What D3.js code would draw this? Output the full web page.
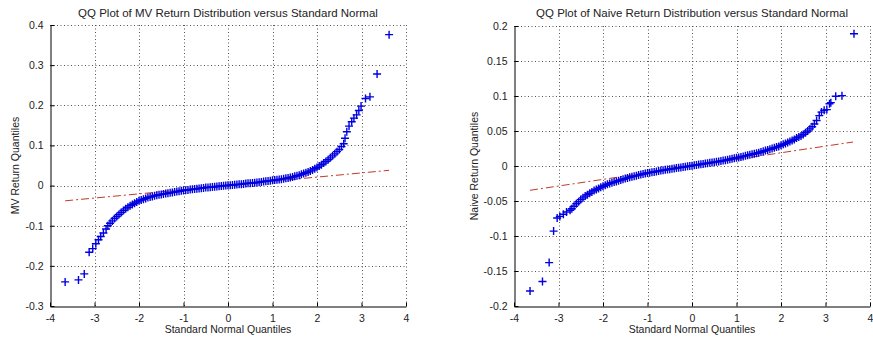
<!DOCTYPE html>
<html><head><meta charset="utf-8">
<script src="https://cdn.jsdelivr.net/npm/d3@7"></script>
<style>body{margin:0;background:#fff} svg text{font-family:"Liberation Sans",Arial,sans-serif;fill:#222}</style>
</head><body><svg id="c" width="873" height="341"></svg>
<script>
// ---- data ----
const xTicks = [-4,-3,-2,-1,0,1,2,3,4];
const xTickLabels = ["-4","-3","-2","-1","0","1","2","3","4"];
const mvYTicks = [-0.3,-0.2,-0.1,0,0.1,0.2,0.3,0.4];
const mvYTickLabels = ["-0.3","-0.2","-0.1","0","0.1","0.2","0.3","0.4"];
const naiveYTicks = [-0.2,-0.15,-0.1,-0.05,0,0.05,0.1,0.15,0.2];
const naiveYTickLabels = ["-0.2","-0.15","-0.1","-0.05","0","0.05","0.1","0.15","0.2"];

const mvTitle = "QQ Plot of MV Return Distribution versus Standard Normal";
const naiveTitle = "QQ Plot of Naive Return Distribution versus Standard Normal";
const xLabel = "Standard Normal Quantiles";
const mvYLabel = "MV Return Quantiles";
const naiveYLabel = "Naive Return Quantiles";

// MV sample quantiles (x = standard normal quantile, y = return quantile)
const mvX = [-3.66,-3.36,-3.23,-3.12,-3.04,-2.97,-2.91,-2.86,-2.80,-2.74,
 -2.70,-2.65,-2.60,-2.55,-2.50,-2.45,-2.40,-2.35,-2.30,-2.25,-2.20,-2.15,-2.10,-2.05,-2.00,
 -1.95,-1.90,-1.85,-1.80,-1.75,-1.70,-1.65,-1.60,-1.55,-1.50,-1.45,-1.40,-1.35,-1.30,-1.25,
 -1.20,-1.15,-1.10,-1.05,-1.00,-0.95,-0.90,-0.85,-0.80,-0.75,-0.70,-0.65,-0.60,-0.55,-0.50,
 -0.45,-0.40,-0.35,-0.30,-0.25,-0.20,-0.15,-0.10,-0.05,0.00,0.05,0.10,0.15,0.20,0.25,
 0.30,0.35,0.40,0.45,0.50,0.55,0.60,0.65,0.70,0.75,0.80,0.85,0.90,0.95,1.00,
 1.05,1.10,1.15,1.20,1.25,1.30,1.35,1.40,1.45,1.50,1.55,1.60,1.65,1.70,1.75,
 1.80,1.85,1.90,1.95,2.00,2.05,2.10,2.15,2.20,2.25,2.30,2.35,2.40,2.45,2.50,2.55,2.60,
 2.63,2.67,2.72,2.78,2.83,2.89,2.94,2.99,3.09,3.19,3.35,3.62];
const mvY = [-0.240,-0.235,-0.220,-0.166,-0.157,-0.145,-0.135,-0.127,-0.118,-0.108,
 -0.100,-0.094,-0.088,-0.082,-0.077,-0.072,-0.067,-0.062,-0.058,-0.054,-0.050,-0.047,-0.044,-0.041,-0.038,
 -0.036,-0.034,-0.032,-0.030,-0.0285,-0.027,-0.0255,-0.024,-0.023,-0.022,-0.021,-0.020,-0.019,-0.018,-0.017,
 -0.016,-0.015,-0.014,-0.013,-0.012,-0.0115,-0.011,-0.010,-0.009,-0.0085,-0.008,-0.007,-0.0065,-0.0058,-0.005,
 -0.0045,-0.004,-0.0035,-0.003,-0.0022,-0.0015,-0.001,-0.0005,0,0.0005,0.001,0.0015,0.002,0.0025,0.003,
 0.0035,0.0042,0.005,0.0055,0.006,0.0065,0.007,0.0078,0.0085,0.0092,0.010,0.0108,0.0115,0.0122,0.013,
 0.0138,0.0145,0.0152,0.016,0.017,0.018,0.019,0.020,0.0215,0.023,0.0245,0.026,0.028,0.030,0.032,
 0.034,0.0365,0.039,0.042,0.045,0.0485,0.052,0.056,0.060,0.0645,0.069,0.074,0.079,0.0845,0.090,0.097,0.104,
 0.118,0.134,0.148,0.159,0.168,0.176,0.187,0.198,0.217,0.221,0.278,0.376];
const mvLineX = [-3.66, 3.62];
const mvLineY = [-0.038, 0.038];

// Naive sample quantiles
const naiveX = [-3.64,-3.36,-3.21,-3.11,-3.03,-2.97,-2.89,-2.82,-2.74,
 -2.70,-2.65,-2.60,-2.55,-2.50,-2.45,-2.40,-2.35,-2.30,-2.25,-2.20,-2.15,-2.10,-2.05,-2.00,
 -1.95,-1.90,-1.85,-1.80,-1.75,-1.70,-1.65,-1.60,-1.55,-1.50,-1.45,-1.40,-1.35,-1.30,-1.25,
 -1.20,-1.15,-1.10,-1.05,-1.00,-0.95,-0.90,-0.85,-0.80,-0.75,-0.70,-0.65,-0.60,-0.55,-0.50,
 -0.45,-0.40,-0.35,-0.30,-0.25,-0.20,-0.15,-0.10,-0.05,0.00,0.05,0.10,0.15,0.20,0.25,
 0.30,0.35,0.40,0.45,0.50,0.55,0.60,0.65,0.70,0.75,0.80,0.85,0.90,0.95,1.00,
 1.05,1.10,1.15,1.20,1.25,1.30,1.35,1.40,1.45,1.50,1.55,1.60,1.65,1.70,1.75,
 1.80,1.85,1.90,1.95,2.00,2.05,2.10,2.15,2.20,2.25,2.30,2.35,2.40,2.45,2.50,2.55,2.60,2.65,2.70,2.75,
 2.80,2.86,2.91,2.97,3.03,3.09,3.12,3.23,3.37,3.64];
const naiveY = [-0.1786,-0.165,-0.138,-0.093,-0.0743,-0.072,-0.069,-0.0657,-0.0633,
 -0.061,-0.0575,-0.054,-0.051,-0.048,-0.0455,-0.043,-0.041,-0.039,-0.037,-0.035,-0.0335,-0.032,-0.0305,-0.029,
 -0.0275,-0.026,-0.025,-0.024,-0.023,-0.022,-0.021,-0.020,-0.019,-0.018,-0.017,-0.016,-0.0152,-0.0145,-0.0138,
 -0.013,-0.0122,-0.0115,-0.0108,-0.010,-0.0095,-0.009,-0.0084,-0.0078,-0.0072,-0.0066,-0.006,-0.0055,-0.005,-0.0045,
 -0.004,-0.0035,-0.003,-0.0025,-0.002,-0.0015,-0.001,-0.0005,0,0.0005,0.001,0.0015,0.002,0.0025,0.003,
 0.0035,0.004,0.0045,0.005,0.0055,0.006,0.0065,0.0071,0.0077,0.0083,0.009,0.0096,0.0103,0.011,0.0117,
 0.0123,0.013,0.0137,0.0145,0.0152,0.016,0.0167,0.0175,0.0182,0.019,0.020,0.021,0.022,0.023,0.024,
 0.025,0.026,0.027,0.028,0.0295,0.031,0.032,0.0335,0.035,0.0365,0.038,0.040,0.0415,0.043,0.045,0.0475,0.050,0.053,0.056,0.060,
 0.065,0.072,0.077,0.0796,0.0806,0.089,0.0905,0.0996,0.1005,0.189];
const naiveLineX = [-3.64, 3.62];
const naiveLineY = [-0.0347, 0.0343];

// ---- drawing ----
const svg = d3.select("#c");
const FS = 10.5;
const FS_TITLE = 11.5;

function panel(o){
  const x = d3.scaleLinear().domain([-4,4]).range([o.left, o.right]);
  const y = d3.scaleLinear().domain(o.yDomain).range([o.bottom, o.top]);
  const g = svg.append("g");

  // grid (dotted)
  const grid = g.append("g").attr("stroke","#555").attr("stroke-width",1).attr("stroke-dasharray","1,2.5");
  grid.selectAll("line.v").data(o.xTicks.slice(1)).join("line")
    .attr("x1",d=>Math.round(x(d))+0.5).attr("x2",d=>Math.round(x(d))+0.5)
    .attr("y1",o.top).attr("y2",o.bottom);
  grid.selectAll("line.h").data(o.yTicks.slice(1)).join("line")
    .attr("y1",d=>Math.round(y(d))+0.5).attr("y2",d=>Math.round(y(d))+0.5)
    .attr("x1",o.left).attr("x2",o.right);

  // reference line (dash-dot)
  g.append("line")
    .attr("x1",x(o.lineX[0])).attr("y1",y(o.lineY[0]))
    .attr("x2",x(o.lineX[1])).attr("y2",y(o.lineY[1]))
    .attr("stroke","#c0392b").attr("stroke-width",1)
    .attr("stroke-dasharray","8,3,2,3");

  // markers
  const pts = o.xs.map((v,i)=>[v,o.ys[i]]);
  g.append("g").selectAll("path").data(pts).join("path")
    .attr("transform",d=>`translate(${x(d[0])},${y(d[1])})`)
    .attr("d","M-4,0H4M0,-4V4")
    .attr("stroke","#0000e0").attr("stroke-width",1.4).attr("fill","none");

  // axes
  const xAxis = d3.axisBottom(x).tickValues(o.xTicks).tickFormat((d,i)=>o.xTickLabels[i])
    .tickSizeInner(-4).tickSizeOuter(0).tickPadding(8);
  const ax = g.append("g").attr("transform",`translate(0,${Math.round(o.bottom)+0.5})`).call(xAxis);
  const yAxis = d3.axisLeft(y).tickValues(o.yTicks).tickFormat((d,i)=>o.yTickLabels[i])
    .tickSizeInner(-4).tickSizeOuter(0).tickPadding(7);
  const ay = g.append("g").attr("transform",`translate(${Math.round(o.left)+0.5},0)`).call(yAxis);
  [ax,ay].forEach(a=>{
    a.select(".domain").attr("stroke","#000");
    a.selectAll(".tick line").attr("stroke","#000");
    a.selectAll("text").attr("font-size",FS).attr("fill","#222").attr("font-family","Liberation Sans, Arial, sans-serif");
  });

  // title & labels
  g.append("text").attr("x",(o.left+o.right)/2).attr("y",17).attr("text-anchor","middle")
    .attr("font-size",FS_TITLE).text(o.title);
  g.append("text").attr("x",(o.left+o.right)/2).attr("y",333).attr("text-anchor","middle")
    .attr("font-size",FS).text(xLabel);
  g.append("text").attr("transform",`translate(${o.yLabelX},${(o.top+o.bottom)/2}) rotate(-90)`)
    .attr("text-anchor","middle").attr("font-size",FS).text(o.yLabel);
}

panel({left:50, right:406, top:25, bottom:306, yDomain:[-0.3,0.4],
  xTicks, xTickLabels, yTicks:mvYTicks, yTickLabels:mvYTickLabels,
  xs:mvX, ys:mvY, lineX:mvLineX, lineY:mvLineY,
  title:mvTitle, yLabel:mvYLabel, yLabelX:19});
panel({left:514, right:870, top:26, bottom:306, yDomain:[-0.2,0.2],
  xTicks, xTickLabels, yTicks:naiveYTicks, yTickLabels:naiveYTickLabels,
  xs:naiveX, ys:naiveY, lineX:naiveLineX, lineY:naiveLineY,
  title:naiveTitle, yLabel:naiveYLabel, yLabelX:478});
</script>
</body></html>
